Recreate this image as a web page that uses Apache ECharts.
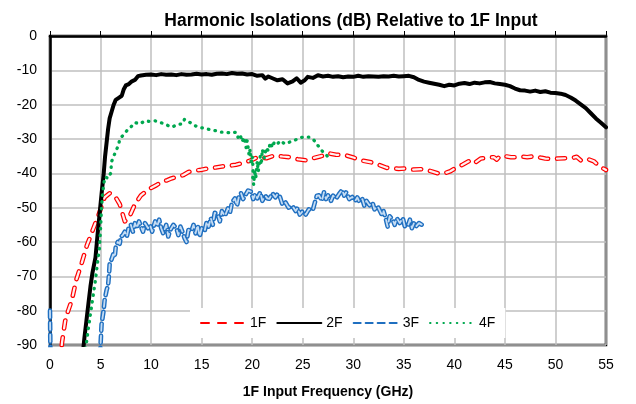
<!DOCTYPE html>
<html>
<head>
<meta charset="utf-8">
<script src="https://cdn.jsdelivr.net/npm/echarts@6/dist/echarts.min.js"></script>
<style>
  html, body { margin: 0; padding: 0; background: #fff; }
  #chart { width: 636px; height: 404px; }
</style>
</head>
<body>
<div id="chart"></div>
<script>
// [GHz, dB]
const iso1F = [
  [1.0, -95], [1.2, -89], [1.5, -83], [1.8, -80], [2.15, -77], [2.6, -71], [3.15, -66], [3.65, -61],
  [4.3, -56], [4.7, -53], [5.0, -50.5], [5.4, -47], [5.9, -45.8], [6.4, -46.5], [6.9, -49], [7.4, -54],
  [7.8, -53], [8.4, -49], [9.0, -46.4], [9.9, -44.4], [10.5, -43.5], [11.0, -42.5], [11.6, -42], [12.0, -41.5],
  [12.6, -41], [13.2, -40.5], [13.7, -39.6], [14.3, -39.2], [14.9, -39], [15.6, -38.6], [16.4, -38.3], [17, -38],
  [17.7, -37.8], [18.4, -37.5], [19.2, -36.9], [19.8, -36.3], [20.6, -35.2], [21.4, -35.6], [22.2, -34.8], [23, -35.1],
  [23.7, -35.3], [24.5, -35.9], [25.3, -36.2], [26, -35.6], [26.8, -35.0], [27.6, -34.2], [28.3, -34.6], [29.1, -34.6],
  [30, -35.4], [30.9, -36.3], [31.8, -36.8], [32.6, -37.6], [33.3, -38.4], [33.8, -38.5], [34.5, -38.7], [35.1, -38.6],
  [35.9, -38.9], [36.7, -38.8], [37.5, -39.2], [38.5, -40.1], [39.0, -40.0], [39.6, -39.4], [40.2, -38.3], [40.8, -37.5],
  [41.6, -36.2], [42.0, -37.0], [42.6, -35.7], [43.4, -35.4], [43.9, -35.3], [44.2, -36.0], [44.5, -35.0], [45.0, -35.0],
  [45.6, -35.3], [46.0, -35.3], [46.6, -35.1], [47.2, -35.3], [48.0, -35.0], [48.5, -35.4], [49.0, -35.7], [49.6, -35.8],
  [50.2, -35.7], [51.0, -35.6], [51.7, -35.5], [52.1, -35.2], [52.5, -36.2], [53.1, -35.7], [53.8, -36.5], [54.4, -38.1],
  [55, -39.0]
];

const iso2F = [
  [3.3, -91], [3.4, -88], [3.6, -83], [3.8, -78], [4.0, -73], [4.2, -69], [4.5, -64.5], [4.7, -58],
  [4.9, -52], [5.1, -46], [5.3, -40.5], [5.45, -35], [5.6, -31], [5.75, -27], [5.9, -24], [6.1, -22],
  [6.3, -20], [6.5, -18.6], [6.8, -18], [7.1, -17.4], [7.3, -15.5], [7.5, -14.4], [7.8, -14], [8.1, -13.2],
  [8.4, -12.8], [8.7, -11.7], [9.0, -11.5], [9.5, -11.3], [10, -11.2], [10.5, -11.4], [11, -11.1], [11.5, -11.3],
  [12, -11.2], [12.5, -11.4], [13, -11.1], [13.5, -11.3], [14, -11.2], [14.5, -11.0], [15, -11.2], [15.5, -11.1],
  [16, -11.3], [16.5, -11.0], [17, -10.9], [17.5, -11.1], [18, -10.8], [18.5, -11.0], [19, -10.9], [19.5, -11.2],
  [20, -11.1], [20.5, -11.6], [21, -11.4], [21.3, -12.4], [21.6, -11.8], [22, -12.3], [22.5, -12.9], [23, -12.6],
  [23.5, -13.8], [24, -13.2], [24.4, -12.3], [24.8, -13.6], [25.2, -12.9], [25.5, -11.9], [26, -12.2], [26.5, -11.4],
  [27, -11.8], [27.5, -11.6], [28, -11.9], [28.5, -11.7], [29, -12.0], [29.5, -11.8], [30, -11.9], [30.5, -11.6],
  [31, -11.9], [31.5, -11.7], [32, -11.8], [32.5, -11.9], [33, -11.7], [33.5, -11.8], [34, -11.6], [34.5, -11.8],
  [35, -11.7], [35.5, -11.6], [36, -12.0], [36.5, -12.8], [37, -13.3], [37.5, -13.6], [38, -13.9], [38.5, -14.2],
  [39, -14.6], [39.5, -14.2], [40, -14.4], [40.5, -13.9], [41, -13.7], [41.5, -14.0], [42, -13.6], [42.5, -13.8],
  [43, -13.5], [43.5, -13.4], [44, -13.8], [44.5, -14.0], [45, -14.2], [45.5, -14.6], [46, -15.3], [46.5, -15.8],
  [47, -15.9], [47.5, -16.2], [48, -15.9], [48.5, -16.3], [49, -16.1], [49.5, -16.5], [50, -16.6], [50.5, -16.8],
  [51, -17.2], [51.5, -17.9], [52, -18.8], [52.5, -19.9], [53, -21.0], [53.5, -22.5], [54, -24.0], [54.5, -25.3],
  [55, -26.6]
];

const iso3F = [
  [0, -80], [0.05, -95], [4.9, -95], [5.0, -90], [5.1, -84], [5.3, -80], [5.4, -77], [5.6, -74],
  [5.75, -72.5], [5.85, -69], [5.9, -66.5], [6.1, -65], [6.25, -63.6], [6.4, -64.5], [6.5, -61.5], [6.7, -60],
  [6.9, -60.5], [7.0, -58.5], [7.2, -58], [7.4, -57], [7.6, -58.5], [7.8, -55.5], [8.0, -55], [8.2, -57],
  [8.4, -54.5], [8.6, -56], [8.8, -54], [9.0, -55.5], [9.2, -57], [9.4, -54.5], [9.7, -56], [9.9, -55],
  [10.1, -57], [10.4, -54], [10.6, -55.5], [10.8, -53.5], [11.0, -56], [11.2, -57.5], [11.5, -55], [11.7, -58.4],
  [11.9, -56.5], [12.2, -55], [12.5, -56], [12.7, -58], [12.9, -55.5], [13.1, -57], [13.3, -58.8], [13.5, -60],
  [13.7, -56.5], [14.0, -56.8], [14.2, -55], [14.4, -57.5], [14.6, -55], [14.8, -58.5], [15.0, -56], [15.3, -56.8],
  [15.5, -54], [15.7, -55.5], [15.9, -53], [16.1, -55], [16.3, -51.5], [16.6, -52], [16.8, -54], [17.0, -51],
  [17.3, -52.5], [17.6, -50.2], [17.8, -51.5], [18.0, -48.5], [18.3, -47.3], [18.5, -49.5], [18.7, -46.5], [18.9, -45.8],
  [19.1, -47.5], [19.4, -46], [19.6, -45], [19.9, -45.4], [20.1, -47.5], [20.3, -46], [20.5, -47.3], [20.8, -45.5],
  [21.0, -48], [21.3, -46.5], [21.5, -47.3], [21.7, -47.4], [22.0, -45.8], [22.3, -47], [22.5, -46], [22.7, -46.4],
  [23.0, -49.2], [23.3, -48.5], [23.6, -50], [24.0, -49.6], [24.3, -51], [24.5, -50], [24.7, -52], [25.0, -51],
  [25.3, -52], [25.6, -50.5], [26.0, -50.7], [26.2, -48.5], [26.4, -46.5], [26.6, -46.4], [26.9, -48], [27.1, -45.5],
  [27.3, -47.5], [27.5, -46.4], [27.8, -48], [28.0, -46.5], [28.3, -47.4], [28.6, -46], [28.9, -44.8], [29.1, -46.5],
  [29.3, -45.5], [29.6, -47.5], [29.9, -46.9], [30.2, -48], [30.4, -47], [30.6, -48.3], [30.9, -47.5], [31.1, -49.5],
  [31.3, -48], [31.6, -49.3], [31.9, -48.5], [32.1, -50.5], [32.4, -49.5], [32.6, -50.7], [32.9, -52.5], [33.0, -51],
  [33.2, -53], [33.4, -55.5], [33.6, -52.5], [33.9, -53.5], [34.1, -55], [34.3, -53], [34.6, -54.5], [34.9, -53],
  [35.1, -55.5], [35.4, -55.3], [35.6, -53.5], [35.8, -56], [36.0, -54.5], [36.2, -55.5], [36.5, -54.5], [36.8, -55]
];

const iso4F = [
  [3.5, -91], [3.6, -89.5], [3.8, -85], [4.0, -81], [4.2, -77], [4.5, -71], [4.7, -66], [4.9, -61.5],
  [5.0, -56], [5.1, -50], [5.2, -46], [5.35, -42.5], [5.5, -41], [5.7, -41.5], [6.0, -40], [6.1, -36.5],
  [6.3, -35], [6.6, -33], [6.8, -31.5], [6.9, -30], [7.2, -29], [7.6, -27.6], [8.0, -26.5], [8.4, -25.2],
  [8.9, -25.6], [9.4, -24.7], [9.9, -24.9], [10.4, -24.7], [10.9, -25.2], [11.4, -25.6], [11.8, -26.3], [12.1, -26.5],
  [12.6, -25.8], [13.1, -25.6], [13.3, -24.3], [13.6, -24.7], [13.9, -25.3], [14.2, -26], [14.8, -26.6], [15.4, -27],
  [15.9, -27.3], [16.4, -27.6], [16.9, -28], [17.4, -28], [17.9, -28.3], [18.4, -28], [18.6, -29.5], [18.8, -28.6],
  [19.0, -30.8], [19.2, -29.5], [19.4, -32.5], [19.5, -30.5], [19.7, -34.8], [19.8, -33], [19.9, -37.5], [20.0, -35],
  [20.1, -38.6], [20.05, -41], [20.15, -43.4], [20.25, -39], [20.35, -41.5], [20.5, -36.5], [20.6, -39.5], [20.8, -35],
  [20.9, -37.5], [21.0, -33], [21.2, -35.5], [21.4, -32.5], [21.6, -33.5], [21.8, -31], [22.0, -32.5], [22.2, -30.8],
  [22.5, -31.4], [22.8, -30.5], [23.2, -31.4], [23.6, -31], [24.2, -30.4], [24.7, -29.6], [25.2, -29.4], [25.7, -29.5],
  [26.0, -30], [26.3, -31], [26.5, -31.9], [26.8, -33], [27.0, -33.8], [27.3, -34.5], [27.6, -35.7]
];

const legendNames = ['1F', '2F', '3F', '4F'];

const chart = echarts.init(document.getElementById('chart'));
const font = 'Liberation Sans';

function line(name, data, color, width, dash, z) {
    return {
        name: name,
        type: 'line',
        data: data,
        symbol: 'none',
        z: z,
        lineStyle: {color: color, width: width, type: dash, cap: 'round', join: 'round'},
        itemStyle: {color: color},
        emphasis: {disabled: true},
    };
}

chart.setOption({
    animation: false,
    title: {
        text: 'Harmonic Isolations (dB) Relative to 1F Input',
        left: 346,
        textAlign: 'center',
        top: 7,
        textStyle: {fontFamily: font, fontSize: 17.5, fontWeight: 'bold', color: '#000'},
    },
    grid: {
        left: 50, right: 30, top: 36, bottom: 56,
        show: true, borderColor: '#000', borderWidth: 2.5, backgroundColor: 'transparent',
    },
    legend: {
        data: legendNames,
        left: 190,
        top: 308,
        padding: [8, 10, 8, 10],
        backgroundColor: '#fff',
        itemWidth: 44,
        itemHeight: 12,
        itemGap: 10,
        itemStyle: {opacity: 0},
        textStyle: {fontFamily: font, fontSize: 14, color: '#000'},
    },
    xAxis: {
        type: 'value',
        min: 0, max: 55, interval: 5,
        name: '1F Input Frequency (GHz)',
        nameLocation: 'middle',
        nameGap: 40,
        nameTextStyle: {fontFamily: font, fontSize: 14, fontWeight: 'bold', color: '#000'},
        axisLine: {lineStyle: {color: '#000', width: 2.5}},
        axisTick: {inside: true, length: 5, lineStyle: {color: '#000'}},
        axisLabel: {fontFamily: font, fontSize: 14, color: '#000', margin: 13},
        splitLine: {lineStyle: {color: '#bfbfbf', width: 1.5}},
    },
    yAxis: {
        type: 'value',
        min: -90, max: 0, interval: 10,
        axisLine: {show: true, lineStyle: {color: '#000', width: 2.5}},
        axisTick: {show: false},
        axisLabel: {fontFamily: font, fontSize: 14, color: '#000', margin: 13},
        splitLine: {lineStyle: {color: '#bfbfbf', width: 1.5}},
    },
    series: [
        line('1F', iso1F, '#ff0000', 4.6, [8, 9], 2),
        line('1F-in', iso1F, '#fff0f0', 2.2, [8, 9], 3),
        line('3F', iso3F, '#1f6fc0', 4.6, [7, 5], 4),
        line('3F-in', iso3F, '#c4dcf4', 1.8, [7, 5], 5),
        line('2F', iso2F, '#000000', 4, 'solid', 6),
        line('4F', iso4F, '#00a84f', 3.3, [0.5, 6.2], 7),
    ],
});
</script>
</body>
</html>
